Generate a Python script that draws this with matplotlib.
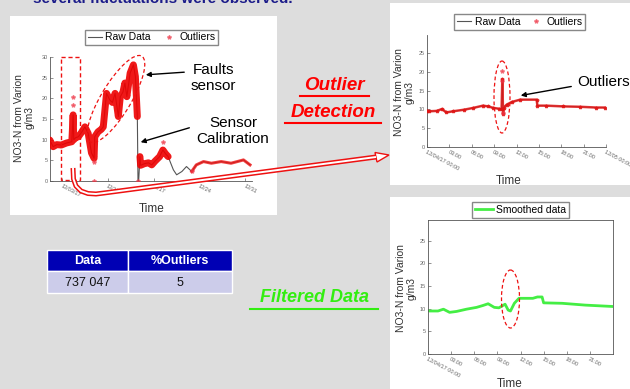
import matplotlib
matplotlib.use('Agg')
import matplotlib.pyplot as plt
from matplotlib.patches import Rectangle, Ellipse, Polygon
import numpy as np

plt.rcParams['font.family'] = ['Liberation Sans', 'DejaVu Sans']

# --- data ---
# panel 1: whole month, x = days after 12/01
p1_days = [0.15, 0.65, 1.2, 1.9, 2.7, 3.5, 3.7, 3.8, 4.1, 4.5, 5.0, 5.5, 6.0, 6.5, 6.9, 7.0,
           7.5, 8.0, 8.3, 8.8, 9.3, 9.7, 10.1, 10.6, 10.9, 11.3, 11.6, 11.9, 12.4, 12.9,
           13.2, 13.5, 13.6, 13.7, 13.9, 14.0, 14.6, 15.2, 15.7, 16.2, 16.9, 17.4, 17.8,
           18.2, 19.0, 19.5, 20.3, 21.0, 21.8, 22.5, 23.6, 24.8, 26.3, 27.8, 29.0, 29.7, 30.7]
p1_vals = [9.9, 8.3, 8.8, 8.7, 9.2, 9.5, 16.0, 10.0, 10.5, 10.7, 11.8, 13.1, 11.5, 6.8, 5.5, 10.7,
           11.9, 12.5, 13.1, 21.2, 19.6, 19.0, 21.2, 15.6, 20.4, 21.5, 23.7, 20.4, 26.1, 28.1,
           25.3, 15.6, 0.0, 0.0, 5.9, 3.8, 4.2, 4.4, 3.9, 4.8, 5.9, 7.5, 6.6,
           5.9, 2.7, 1.5, 2.3, 3.5, 2.3, 3.9, 4.7, 4.3, 4.7, 4.3, 4.8, 5.1, 3.9]
p1_out_days = [3.7, 3.7, 6.9, 6.9, 13.6, 17.4, 21.8]
p1_out_vals = [20.3, 18.5, 4.6, 0.0, 0.0, 9.5, 2.3]
p1_ticks = [2, 9, 16, 23, 30]
p1_ticklabels = ['12/03/17', '12/10', '12/17', '12/24', '12/31']

# panel 2: one day (hours), raw data with outliers
p2_hours = [0.0, 0.3, 1.3, 2.0, 2.6, 3.5, 4.9, 6.2, 7.5, 8.2, 8.9, 9.6, 10.0, 10.1, 10.2, 10.3,
            10.7, 11.4, 12.5, 14.7, 14.8, 16.0, 18.3, 20.5, 22.7, 23.8]
p2_vals = [9.7, 9.5, 9.6, 10.1, 9.2, 9.5, 9.9, 10.4, 11.0, 10.8, 10.4, 10.2, 10.0, 18.0, 8.8, 10.5,
           11.3, 12.0, 12.6, 12.6, 11.0, 11.0, 10.8, 10.7, 10.5, 10.5]
p2_out_hours = [10.1, 10.1, 10.15]
p2_out_vals = [20.2, 17.5, 9.0]

# panel 3: smoothed
p3_hours = [0.0, 0.2, 1.3, 2.0, 2.8, 3.7, 5.0, 6.3, 7.1, 7.8, 8.6, 9.2, 10.0, 10.4, 10.7,
            11.2, 11.8, 13.6, 14.2, 14.8, 15.0, 17.4, 20.4, 23.9]
p3_vals = [9.6, 9.5, 9.5, 9.9, 9.2, 9.4, 9.9, 10.3, 10.7, 11.1, 10.3, 10.2, 11.0, 9.7, 9.5,
           11.2, 12.3, 12.3, 12.6, 12.6, 11.3, 11.2, 10.8, 10.5]

hour_ticks = [0, 3, 6, 9, 12, 15, 18, 21, 24]
hour_labels = ['12/04/17 00:00', '03:00', '06:00', '09:00', '12:00', '15:00', '18:00', '21:00',
               '12/05 00:00']

table_header = ['Data', '%Outliers']
table_row = ['737 047', '5']

W, H = 630, 389
fig = plt.figure(figsize=(W / 100, H / 100), dpi=100, facecolor='#dddddd')


def px_axes(l, t, r, b, z=0):
    return fig.add_axes([l / W, 1 - b / H, (r - l) / W, (b - t) / H], zorder=z)


def pixel_layer(z):
    a = fig.add_axes([0, 0, 1, 1], zorder=z)
    a.set_xlim(0, W)
    a.set_ylim(H, 0)
    a.axis('off')
    a.patch.set_alpha(0)
    return a


bg = pixel_layer(-5)
for l, t, r, b in [(10, 16, 277, 215), (390, 3, 630, 185), (390, 197, 630, 389)]:
    bg.add_patch(Rectangle((l, t), r - l, b - t, facecolor='white', edgecolor='none'))


def style_axes(ax, box=False):
    for s in ['top', 'right']:
        ax.spines[s].set_visible(box)
    for s in ax.spines.values():
        s.set_color('#555555')
        s.set_linewidth(0.6)
    ax.tick_params(direction='in', length=2, width=0.5, labelsize=4, colors='#666666', pad=1.5,
                   top=False, right=False)
    ax.set_ylabel('NO3-N from Varion\ng/m3', fontsize=7.5, color='#333333', linespacing=1.1)
    ax.set_xlabel('Time', fontsize=8.5, color='#333333')
    for lab in ax.get_xticklabels():
        lab.set_rotation(-28)
        lab.set_ha('left')
        lab.set_va('top')
        lab.set_rotation_mode('anchor')


leg_kw = dict(fontsize=7.5, handletextpad=0.3, borderpad=0.25, fancybox=False,
              edgecolor='#888888', framealpha=1, bbox_transform=fig.transFigure, loc='center')

# panel 1
ax1 = px_axes(50, 57, 252, 181)
ax1.plot(p1_days, p1_vals, color='#555555', lw=0.8, label='Raw Data', zorder=2)
d1 = np.array(p1_days)
v1 = np.array(p1_vals, dtype=float)
red1 = np.where((d1 > 18.3) & (d1 < 21.7) | (d1 > 13.55) & (d1 < 13.85), np.nan, v1)
red1_a = np.where(d1 < 19, red1, np.nan)
red1_b = np.where(d1 > 21, red1, np.nan)
ax1.plot(d1, red1_a, color='#ee0000', lw=5, alpha=0.9, solid_joinstyle='round',
         solid_capstyle='round', zorder=3)
ax1.plot(d1, red1_b, color='#ee1111', lw=2.2, alpha=0.8, solid_joinstyle='round', zorder=3)
ax1.plot(p1_out_days, p1_out_vals, ls='none', marker='*', ms=3, color='#ee3344', alpha=0.6,
         label='Outliers', zorder=4)
ax1.set_xlim(0.17, 31.0)
ax1.set_ylim(0, 30)
ax1.set_xticks(p1_ticks, p1_ticklabels)
ax1.set_yticks(range(0, 31, 5))
style_axes(ax1)
ax1.xaxis.set_label_coords(0.505, -0.175)
ax1.yaxis.set_label_coords(-0.075, 0.51)
ax1.legend(bbox_to_anchor=(151.5 / W, 1 - 37.5 / H), ncol=2, handlelength=1.4,
           columnspacing=1.0, **leg_kw)

# panel 2
ax2 = px_axes(427, 35, 606, 147)
ax2.plot(p2_hours, p2_vals, color='#555555', lw=0.6, label='_raw', zorder=2)
ax2.plot(p2_hours, p2_vals, color='#e01515', lw=1.8, alpha=0.85, marker='*', ms=2.5,
         solid_joinstyle='round', zorder=3)
ax2.plot([], [], color='#555555', lw=0.8, label='Raw Data')
ax2.plot(p2_out_hours, p2_out_vals, ls='none', marker='*', ms=3, color='#ee3344', alpha=0.6,
         label='Outliers', zorder=4)
ax2.set_xlim(0, 24)
ax2.set_ylim(0, 29.8)
ax2.set_xticks(hour_ticks, hour_labels)
ax2.set_yticks(range(0, 26, 5))
style_axes(ax2)
ax2.xaxis.set_label_coords(0.458, -0.25)
ax2.yaxis.set_label_coords(-0.067, 0.49)
ax2.legend(bbox_to_anchor=(519.5 / W, 1 - 22 / H), ncol=2, handlelength=1.4,
           columnspacing=0.8, **leg_kw)

# panel 3
ax3 = px_axes(428, 220, 613, 354)
ax3.plot(p3_hours, p3_vals, color='#44ee44', lw=2, label='Smoothed data')
ax3.set_xlim(0, 24)
ax3.set_ylim(0, 29.6)
ax3.set_xticks(hour_ticks[:-1], hour_labels[:-1])
ax3.set_yticks(range(0, 26, 5))
style_axes(ax3, box=True)
ax3.xaxis.set_label_coords(0.443, -0.18)
ax3.yaxis.set_label_coords(-0.06, 0.49)
ax3.legend(bbox_to_anchor=(520.5 / W, 1 - 210 / H), handlelength=1.8, **leg_kw)

# overlay annotations (pixel coordinates)
ov = pixel_layer(10)
ov.text(33, -1.5, 'several fluctuations were observed.', fontsize=11, fontweight='bold',
        color='#1c1c8a', ha='left', va='center')

# dashed shapes
ov.add_patch(Rectangle((61, 57), 19, 123, fill=False, edgecolor='#ee1111', ls=(0, (3, 2)), lw=1))
ov.add_patch(Ellipse((116, 99), 100, 30, angle=-59, fill=False, edgecolor='#ee1111',
                     ls=(0, (3, 2)), lw=0.9))
ov.add_patch(Ellipse((502, 97), 16, 72, fill=False, edgecolor='#ee1111', ls=(0, (3, 2)), lw=0.9))
ov.add_patch(Ellipse((510.5, 299), 18, 58, fill=False, edgecolor='#ee1111', ls=(0, (3, 2)), lw=0.9))

# callout texts and arrows
ov.text(213, 78, 'Faults\nsensor', fontsize=11, ha='center', va='center', linespacing=1.15)
ov.annotate('', xy=(143, 75), xytext=(187, 72),
            arrowprops=dict(arrowstyle='-|>', color='black', lw=1, mutation_scale=7))
ov.text(233, 131, 'Sensor\nCalibration', fontsize=11, ha='center', va='center', linespacing=1.15)
ov.annotate('', xy=(138, 143), xytext=(192, 127),
            arrowprops=dict(arrowstyle='-|>', color='black', lw=1, mutation_scale=7))
ov.text(577, 82, 'Outliers', fontsize=11, ha='left', va='center')
ov.annotate('', xy=(518, 96), xytext=(574, 86),
            arrowprops=dict(arrowstyle='-|>', color='black', lw=1, mutation_scale=7))

# big hollow arrow
arr_x = [73, 73.5, 76, 81, 88, 96, 104, 376]
arr_y = [168, 179, 186, 191, 193.5, 194, 193, 157]
ov.plot(arr_x, arr_y, color='#ee1111', lw=3.6, solid_capstyle='butt', solid_joinstyle='round')
ov.plot(arr_x, arr_y, color='white', lw=1.4, solid_capstyle='butt', solid_joinstyle='round')
ov.add_patch(Polygon([(375, 152.5), (389, 155), (377, 162)], closed=True, facecolor='white',
                     edgecolor='#ee1111', lw=1))

# slide headings
ov.text(334, 85, 'Outlier', fontsize=13.5, fontweight='bold', fontstyle='italic',
        color='#ff0000', ha='center', va='center')
ov.plot([300, 369], [95.5, 95.5], color='#ff0000', lw=1.5)
ov.text(333, 112, 'Detection', fontsize=13.5, fontweight='bold', fontstyle='italic',
        color='#ff0000', ha='center', va='center')
ov.plot([285, 381], [123, 123], color='#ff0000', lw=1.5)
ov.text(314, 298, 'Filtered Data', fontsize=13, fontweight='bold', fontstyle='italic',
        color='#33ee11', ha='center', va='center')
ov.plot([250, 378], [308.5, 308.5], color='#33ee11', lw=1.5)

# table
col_x = [47, 128, 232]
for i in range(2):
    ov.add_patch(Rectangle((col_x[i], 250), col_x[i + 1] - col_x[i], 21, facecolor='#0000b4',
                           edgecolor='white', lw=1))
    ov.add_patch(Rectangle((col_x[i], 271), col_x[i + 1] - col_x[i], 22, facecolor='#ccccea',
                           edgecolor='white', lw=1))
    cx = (col_x[i] + col_x[i + 1]) / 2
    ov.text(cx, 261, table_header[i], color='white', fontweight='bold', fontsize=9,
            ha='center', va='center')
    ov.text(cx, 282.5, table_row[i], color='#111111', fontsize=9, ha='center', va='center')

fig.savefig('out.png', dpi=100, facecolor=fig.get_facecolor())
